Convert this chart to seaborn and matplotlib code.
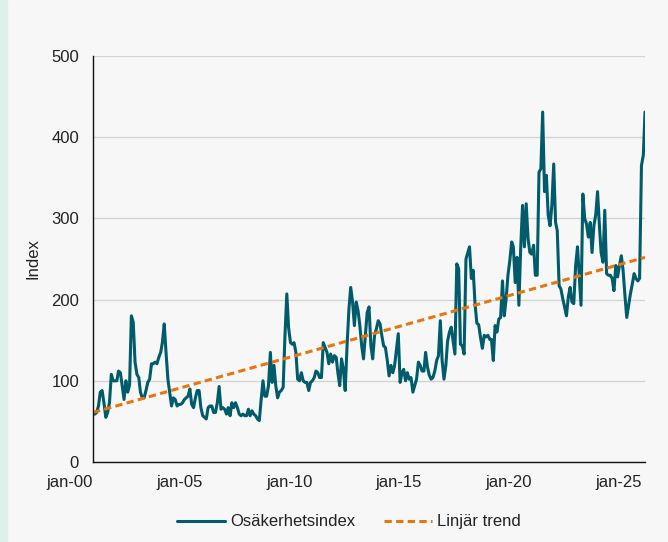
import numpy as np
import pandas as pd
import seaborn as sns
import matplotlib.pyplot as plt
from matplotlib.patches import Rectangle

# osäkerhetsindex, månadsvärden från jan-00
index_values = [
    62, 59, 61, 69, 86, 88, 73, 55, 61, 73, 108, 100,
    100, 100, 112, 110, 94, 77, 100, 86, 95, 180, 172, 123,
    108, 104, 86, 79, 79, 88, 98, 102, 121, 121, 123, 121,
    129, 135, 147, 170, 135, 102, 86, 69, 79, 77, 69, 71,
    71, 73, 77, 79, 81, 90, 71, 67, 79, 88, 88, 67,
    57, 55, 53, 67, 69, 69, 61, 61, 73, 93, 65, 67,
    65, 59, 67, 57, 73, 67, 73, 67, 59, 57, 59, 57,
    57, 65, 57, 63, 59, 57, 53, 51, 77, 100, 81, 81,
    94, 135, 98, 119, 94, 79, 86, 88, 92, 155, 207, 165,
    147, 145, 147, 135, 102, 100, 110, 100, 98, 98, 88, 98,
    100, 104, 112, 110, 104, 104, 147, 141, 135, 121, 133, 123,
    131, 129, 110, 94, 127, 114, 88, 143, 188, 215, 197, 168,
    197, 186, 168, 143, 127, 156, 184, 191, 143, 127, 156, 164,
    174, 170, 156, 143, 141, 125, 106, 119, 110, 119, 139, 158,
    98, 110, 114, 100, 110, 102, 104, 86, 94, 102, 123, 119,
    112, 112, 135, 117, 107, 102, 104, 112, 125, 131, 174, 125,
    102, 119, 149, 160, 166, 149, 133, 244, 238, 145, 143, 133,
    250, 258, 265, 226, 236, 195, 171, 169, 153, 140, 156, 154,
    156, 151, 151, 125, 168, 160, 176, 178, 223, 180, 201, 230,
    248, 271, 265, 221, 252, 193, 263, 316, 265, 318, 275, 258,
    256, 267, 230, 230, 357, 361, 431, 333, 353, 304, 291, 316,
    367, 295, 285, 217, 213, 201, 191, 180, 203, 215, 197, 195,
    242, 265, 230, 193, 330, 300, 293, 277, 295, 258, 291, 304,
    333, 291, 258, 246, 310, 232, 230, 230, 226, 211, 242, 228,
    242, 254, 236, 205, 178, 193, 207, 219, 232, 226, 223, 226,
    365, 378, 431,
]
start_month = "2000-01-01"
trend_start = 61
trend_end = 252
tick_years = [2000, 2005, 2010, 2015, 2020, 2025]
tick_labels = ["jan-00", "jan-05", "jan-10", "jan-15", "jan-20", "jan-25"]
series_names = ["Osäkerhetsindex", "Linjär trend"]

dates = pd.date_range(start_month, periods=len(index_values), freq="MS")
df = pd.DataFrame({"datum": dates, "varde": index_values})
trend = pd.DataFrame({"datum": [dates[0], dates[-1]], "varde": [trend_start, trend_end]})

sns.set_style("white")
plt.rcParams["font.family"] = ["Liberation Sans", "DejaVu Sans"]

bg = "#f7f7f7"
fig = plt.figure(figsize=(6.68, 5.42), dpi=100, facecolor=bg)
fig.patches.append(Rectangle((0, 0), 7 / 668, 1, transform=fig.transFigure,
                             color="#dff0eb", zorder=0))
ax = fig.add_axes([93 / 668, 80 / 542, 552 / 668, 406 / 542])
ax.set_facecolor(bg)

sns.lineplot(data=df, x="datum", y="varde", ax=ax, color="#005b6b",
             linewidth=2.2, label=series_names[0])
sns.lineplot(data=trend, x="datum", y="varde", ax=ax, color="#e8760f",
             linewidth=2.2, linestyle=(0, (2.4, 1.4)), label=series_names[1])

ax.set_xlim(dates[0], dates[-1])
ax.set_ylim(0, 500)
ax.set_yticks(np.arange(0, 501, 100))
ax.set_xticks([pd.Timestamp(y, 1, 1) for y in tick_years])
ax.set_xticklabels(tick_labels, ha="right")
ax.grid(axis="y", color="#d4d4d4", linewidth=1)
ax.set_axisbelow(True)

ax.tick_params(axis="y", length=6, width=1, color="#d4d4d4", pad=4,
               labelsize=12, labelcolor="#222222")
ax.tick_params(axis="x", length=0, pad=9, labelsize=12, labelcolor="#222222")

for s in ["top", "right"]:
    ax.spines[s].set_visible(False)
for s in ["left", "bottom"]:
    ax.spines[s].set_color("#111111")
    ax.spines[s].set_linewidth(1)

ax.set_xlabel("")
ax.set_ylabel("Index", fontsize=12, color="#222222", labelpad=8)

handles, labels = ax.get_legend_handles_labels()
ax.legend_.remove()
fig.legend(handles, labels, loc="center", bbox_to_anchor=(0.522, 0.037), ncol=2,
           frameon=False, fontsize=12, handlelength=2.9, handletextpad=0.3,
           columnspacing=1.7, labelcolor="#222222")

fig.savefig("out.png", dpi=100, facecolor=fig.get_facecolor())
